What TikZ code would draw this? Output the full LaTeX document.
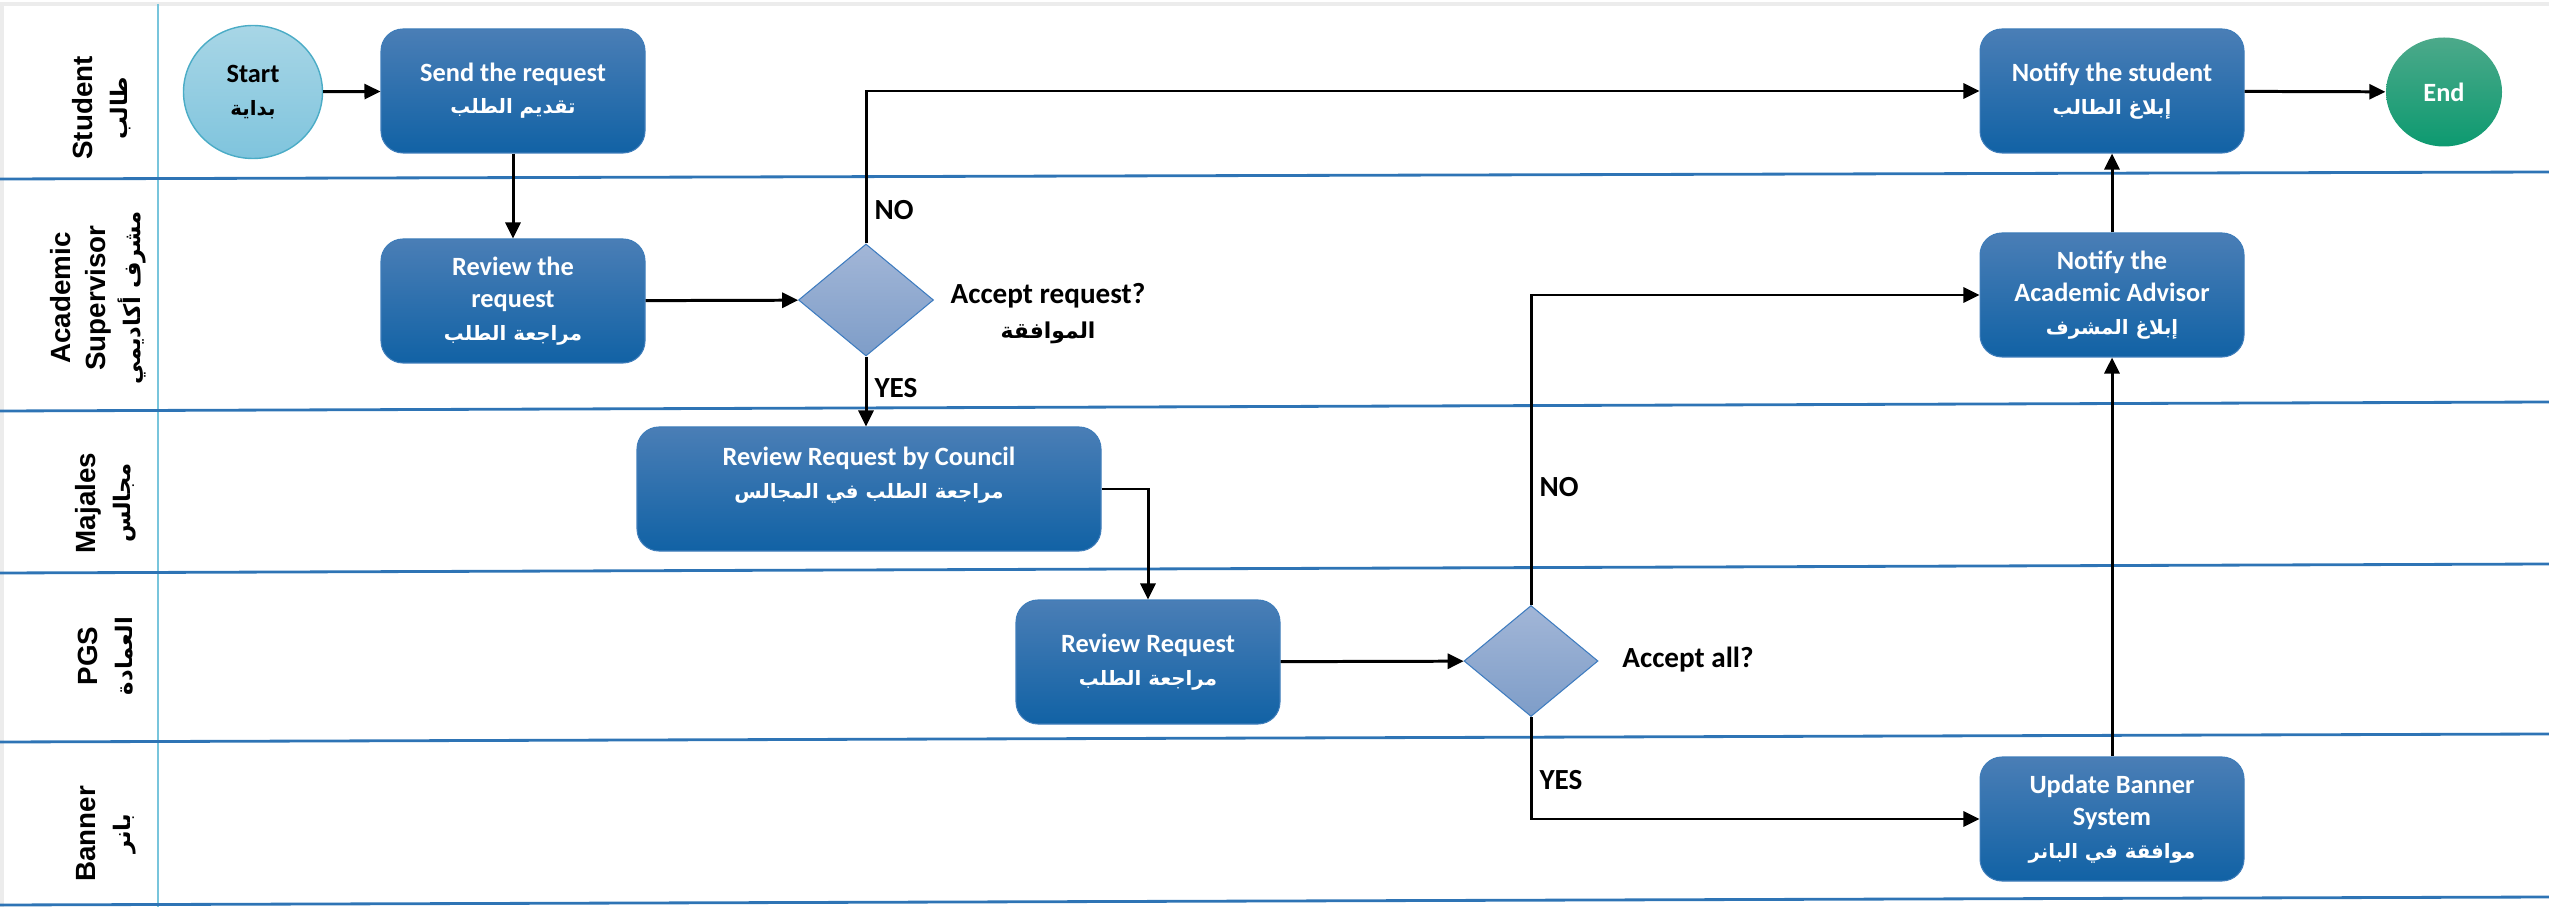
\documentclass[tikz,border=0pt]{standalone}
\usepackage{fontspec}
\usetikzlibrary{shapes.geometric,arrows.meta}
\setmainfont{Carlito}
\newfontfamily\lanefont{Liberation Sans}
\newfontfamily\arfont[Script=Arabic,Scale=0.75]{DejaVu Sans}
\newfontfamily\arlanefont[Script=Arabic,Scale=0.82]{DejaVu Sans}
\TeXXeTstate=1
\newcommand\ar[1]{{\arfont\beginR #1\endR}}
\newcommand\arlane[1]{{\arlanefont\beginR #1\endR}}

\definecolor{boxtop}{HTML}{4A7EB6}
\definecolor{boxmid}{HTML}{1B6EB2}
\definecolor{boxbot}{HTML}{1162A5}
\definecolor{boxline}{HTML}{3F7DBA}
\definecolor{dectop}{HTML}{A2B6D7}
\definecolor{decbot}{HTML}{7E9DC8}
\definecolor{decline}{HTML}{3E7CC0}
\definecolor{starttop}{HTML}{A8D6E6}
\definecolor{startbot}{HTML}{7FC4DD}
\definecolor{startline}{HTML}{4BACC6}
\definecolor{endtop}{HTML}{4CA98A}
\definecolor{endbot}{HTML}{0D9A70}
\definecolor{laneblue}{HTML}{2E74B5}
\definecolor{headline}{HTML}{78C5DC}

\tikzset{
  task/.style={rectangle,rounded corners=0.22cm,minimum width=2.64cm,minimum height=1.24cm,
    top color=boxtop,middle color=boxmid,bottom color=boxbot,draw=boxline,line width=0.3pt,
    text=white,align=center,inner sep=0pt,font=\bfseries\fontsize{7.5}{9.2}\selectfont},
  decision/.style={diamond,minimum width=1.35cm,minimum height=1.12cm,inner sep=0pt,
    top color=dectop,bottom color=decbot,draw=decline,line width=0.3pt},
  terminal/.style={ellipse,inner sep=0pt,align=center,font=\bfseries\fontsize{7.5}{9.2}\selectfont},
  flow/.style={-{Triangle[length=0.16cm,width=0.15cm]},line width=0.85pt},
  lane/.style={draw=laneblue,line width=0.8pt},
  lanelabel/.style={rotate=90,align=center,font=\lanefont\bfseries\fontsize{7.9}{10}\selectfont},
  flowlabel/.style={align=center,inner sep=2pt,font=\bfseries\fontsize{8.3}{10}\selectfont}
}

\begin{document}
\begin{tikzpicture}[y=-1cm]
  \useasboundingbox (0,0) rectangle (25.49,9.07);

  % swimlanes
  \draw[gray!15,line width=1.2pt] (0,0.04) -- (25.49,0.04);
  \draw[gray!15,line width=1pt] (0.02,0.04) -- (0.02,9.07);
  \draw[headline,line width=0.6pt] (1.58,0.04) -- (1.58,9.07);
  \draw[lane] (0,1.79) -- (25.49,1.72);
  \draw[lane] (0,4.11) -- (25.49,4.02);
  \draw[lane] (0,5.73) -- (25.49,5.64);
  \draw[lane] (0,7.42) -- (25.49,7.34);
  \draw[lane] (0,9.05) -- (25.49,8.97);

  \node[lanelabel] (lstudent) at (1.02,1.08) {Student\\\arlane{طالب}};
  \node[lanelabel] (ladvisor) at (0.98,2.98) {Academic\\Supervisor\\\arlane{مشرف أكاديمي}};
  \node[lanelabel] (lmajales) at (1.06,5.03) {Majales\\\arlane{مجالس}};
  \node[lanelabel] (lpgs) at (1.06,6.56) {PGS\\\arlane{العمادة}};
  \node[lanelabel] (lbanner) at (1.06,8.34) {Banner\\\arlane{بانر}};

  % steps
  \node[terminal,minimum width=1.39cm,minimum height=1.33cm,top color=starttop,bottom color=startbot,
    draw=startline,line width=0.4pt] (start) at (2.53,0.92) {Start\\\ar{بداية}};
  \node[task] (send) at (5.13,0.91) {Send the request\\\ar{تقديم الطلب}};
  \node[task] (review) at (5.13,3.01) {Review the\\request\\\ar{مراجعة الطلب}};
  \node[decision] (accreq) at (8.66,3.00) {};
  \node[flowlabel] (accreqlbl) at (10.48,3.14) {Accept request?\\\ar{الموافقة}};
  \node[task,minimum width=4.64cm] (council) at (8.69,4.89)
    {Review Request by Council\\\ar{مراجعة الطلب في المجالس}\\\mbox{}};
  \node[task] (pgsreview) at (11.48,6.62) {Review Request\\\ar{مراجعة الطلب}};
  \node[decision,minimum width=1.34cm,minimum height=1.11cm] (accall) at (15.31,6.61) {};
  \node[flowlabel] (accalllbl) at (16.88,6.60) {Accept all?};
  \node[task] (banner) at (21.12,8.19) {Update Banner\\System\\\ar{موافقة في البانر}};
  \node[task] (notadv) at (21.12,2.95) {Notify the\\Academic Advisor\\\ar{إبلاغ المشرف}};
  \node[task] (notstu) at (21.12,0.91) {Notify the student\\\ar{إبلاغ الطالب}};
  \node[terminal,minimum width=1.16cm,minimum height=1.09cm,top color=endtop,bottom color=endbot,
    text=white] (finish) at (24.44,0.92) {End};

  % connectors
  \draw[flow] (start) -- (send);
  \draw[flow] (send) -- (review);
  \draw[flow] (review) -- (accreq);
  \draw[flow] (accreq.north) |- node[flowlabel,pos=0.11,right] {NO} (notstu.west);
  \draw[flow] (accreq.south) -- node[flowlabel,pos=0.45,right] {YES} (accreq.south |- council.north);
  \draw[flow] (council.east) -| (pgsreview.north);
  \draw[flow] (pgsreview) -- (accall);
  \draw[flow] (accall.north) |- node[flowlabel,pos=0.19,right] {NO} (notadv.west);
  \draw[flow] (accall.south) |- node[flowlabel,pos=0.31,right] {YES} (banner.west);
  \draw[flow] (banner) -- (notadv);
  \draw[flow] (notadv) -- (notstu);
  \draw[flow] (notstu) -- (finish);
\end{tikzpicture}
\end{document}
